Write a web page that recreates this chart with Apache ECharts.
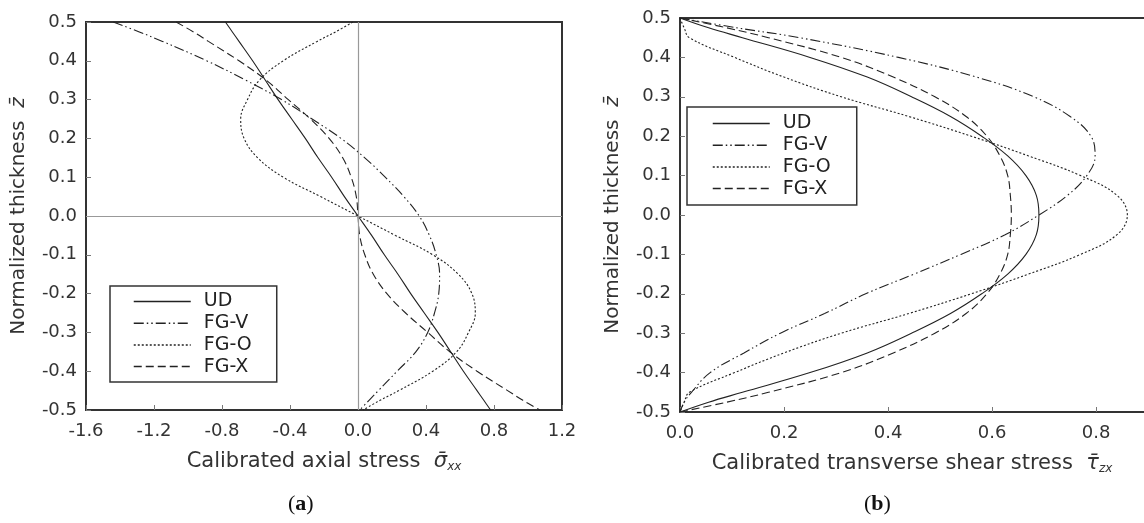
<!DOCTYPE html>
<html>
<head>
<meta charset="utf-8">
<script src="https://cdn.jsdelivr.net/npm/echarts@6/dist/echarts.min.js"></script>
<style>
html, body { margin: 0; padding: 0; background: #fff; }
#chart { width: 1144px; height: 523px; }
</style>
</head>
<body>
<div id="chart"></div>
<script>
// normalized thickness levels, shared by every curve
const zLevels = [0.5, 0.475, 0.45, 0.4, 0.35, 0.3, 0.25, 0.2, 0.15, 0.1, 0.05, 0,
  -0.05, -0.1, -0.15, -0.2, -0.25, -0.3, -0.35, -0.4, -0.45, -0.475, -0.5];

// (a) calibrated axial stress
const axialUD = [-0.78, -0.74, -0.70, -0.62, -0.545, -0.47, -0.39, -0.31, -0.235, -0.155, -0.08, 0,
  0.08, 0.155, 0.235, 0.31, 0.39, 0.47, 0.545, 0.62, 0.70, 0.74, 0.78];
const axialFGV = [-1.44, -1.29, -1.15, -0.89, -0.66, -0.45, -0.27, -0.10, 0.04, 0.16, 0.27, 0.36,
  0.42, 0.46, 0.48, 0.475, 0.45, 0.41, 0.34, 0.23, 0.12, 0.065, 0.01];
const axialFGO = [-0.03, -0.13, -0.24, -0.44, -0.58, -0.65, -0.69, -0.67, -0.59, -0.44, -0.22, 0,
  0.22, 0.44, 0.59, 0.67, 0.69, 0.65, 0.58, 0.44, 0.24, 0.13, 0.03];
const axialFGX = [-1.07, -0.97, -0.88, -0.70, -0.54, -0.41, -0.28, -0.17, -0.09, -0.04, -0.01, 0,
  0.01, 0.04, 0.09, 0.17, 0.28, 0.41, 0.54, 0.70, 0.88, 0.97, 1.07];

// (b) calibrated transverse shear stress
const shearUD = [0, 0.055, 0.12, 0.25, 0.36, 0.445, 0.52, 0.58, 0.63, 0.665, 0.685, 0.69,
  0.685, 0.665, 0.63, 0.58, 0.52, 0.445, 0.36, 0.25, 0.12, 0.055, 0];
const shearFGV = [0, 0.11, 0.23, 0.42, 0.57, 0.68, 0.75, 0.79, 0.798, 0.782, 0.745, 0.69,
  0.625, 0.54, 0.45, 0.357, 0.278, 0.193, 0.123, 0.058, 0.022, 0.008, 0];
const shearFGO = [0, 0.008, 0.018, 0.105, 0.20, 0.31, 0.44, 0.56, 0.67, 0.77, 0.84, 0.86,
  0.84, 0.77, 0.67, 0.56, 0.44, 0.31, 0.20, 0.105, 0.018, 0.008, 0];
const shearFGX = [0, 0.09, 0.17, 0.31, 0.41, 0.49, 0.55, 0.59, 0.615, 0.63, 0.635, 0.637,
  0.635, 0.63, 0.615, 0.59, 0.55, 0.49, 0.41, 0.31, 0.17, 0.09, 0];

const seriesNames = ["UD", "FG-V", "FG-O", "FG-X"];
const axialTicks = { min: -1.6, max: 1.2, interval: 0.4 };
const shearTicks = { min: 0, max: 0.892, interval: 0.2 };
const zTicks = { min: -0.5, max: 0.5, interval: 0.1 };

const FONT = "DejaVu Sans";
const INK = "#222";
const dashTypes = {
  "UD": "solid",
  "FG-V": [10, 3, 1.5, 3, 1.5, 3],
  "FG-O": [2, 2],
  "FG-X": [8, 4]
};

const toPairs = (xs) => xs.map((x, i) => [x, zLevels[i]]);
const fmt = (v) => v.toFixed(1);

const makeSeries = (name, values, grid) => ({
  name,
  type: "line",
  xAxisIndex: grid === 0 ? 0 : 1,
  yAxisIndex: grid,
  data: toPairs(values),
  smooth: 0.4,
  symbol: "none",
  animation: false,
  lineStyle: { color: INK, width: 1.1, type: dashTypes[name] },
  itemStyle: { color: INK }
});

const tickLabel = (extra) => Object.assign({ formatter: fmt, color: "#333", fontSize: 18, fontFamily: FONT }, extra);

const valueAxis = (grid, ticks, extra) => Object.assign({
  type: "value",
  gridIndex: grid,
  min: ticks.min,
  max: ticks.max,
  interval: ticks.interval,
  splitLine: { show: false },
  axisTick: { show: true, inside: true, length: 5, lineStyle: { color: "#777" } },
  axisLine: { show: true, onZero: false, lineStyle: { color: "#333", width: 2 } },
  axisLabel: tickLabel({})
}, extra);

const legendBox = (left, top, padding) => ({
  left, top,
  orient: "vertical",
  data: seriesNames,
  itemWidth: 57,
  itemHeight: 20,
  itemGap: 2.7,
  padding,
  borderColor: "#333",
  borderWidth: 1.5,
  selectedMode: false,
  itemStyle: { opacity: 0 },
  lineStyle: { width: 1.5 },
  textStyle: { color: "#222", fontSize: 19, fontFamily: FONT, padding: [0, 0, 0, 8] }
});

const zName = "Normalized thickness  {z|z\u0304}";
const nameRich = (size) => ({
  z: { fontStyle: "italic", fontSize: size, fontFamily: FONT, color: "#333" },
  v: { fontStyle: "italic", fontSize: size, fontFamily: FONT, color: "#333" },
  s: { fontStyle: "italic", fontSize: 12, fontFamily: FONT, color: "#333", padding: [10, 0, 0, 0] }
});
const nameStyle = (size) => ({ color: "#333", fontSize: size, fontFamily: FONT, rich: nameRich(size) });

const panelTitle = (letter, left) => ({
  text: "({b|" + letter + "})",
  left,
  top: 488,
  textStyle: {
    fontFamily: "Liberation Serif", fontSize: 22, color: "#111", fontWeight: "normal",
    rich: { b: { fontFamily: "Liberation Serif", fontSize: 22, fontWeight: "bold", color: "#111" } }
  }
});

const option = {
  backgroundColor: "#fff",
  animation: false,
  title: [panelTitle("a", 283), panelTitle("b", 859)],
  legend: [
    legendBox(110, 286, [6, 25, 6, 23]),
    legendBox(687, 107, [7, 26, 7, 25])
  ],
  grid: [
    { left: 86, top: 22, width: 476, height: 388, show: true, borderColor: "#333", borderWidth: 2 },
    { left: 680, top: 18, width: 464, height: 394 }
  ],
  xAxis: [
    valueAxis(0, axialTicks, {
      position: "bottom",
      name: "Calibrated axial stress  {v|\u03c3\u0304}{s|xx}",
      nameLocation: "middle",
      nameGap: 41,
      axisLabel: tickLabel({ margin: 12 }),
      nameTextStyle: nameStyle(21)
    }),
    valueAxis(1, shearTicks, {
      position: "bottom",
      name: "Calibrated transverse shear stress  {v|\u03c4\u0304}{s|zx}",
      nameLocation: "middle",
      nameGap: 41,
      axisLabel: tickLabel({ margin: 12, showMaxLabel: false }),
      nameTextStyle: nameStyle(21)
    }),
    valueAxis(1, shearTicks, {
      position: "top",
      axisTick: { show: false },
      axisLabel: { show: false }
    })
  ],
  yAxis: [
    valueAxis(0, zTicks, {
      name: zName,
      nameLocation: "middle",
      nameRotate: 90,
      nameGap: 57,
      axisLabel: tickLabel({ margin: 9 }),
      nameTextStyle: nameStyle(20)
    }),
    valueAxis(1, zTicks, {
      name: zName,
      nameLocation: "middle",
      nameRotate: 90,
      nameGap: 57,
      axisLabel: tickLabel({ margin: 9 }),
      nameTextStyle: nameStyle(20)
    })
  ],
  series: [
    Object.assign(makeSeries("UD", axialUD, 0), {
      markLine: {
        silent: true,
        symbol: ["none", "none"],
        label: { show: false },
        lineStyle: { color: "#999", type: "solid", width: 1.2 },
        data: [{ xAxis: 0 }, { yAxis: 0 }]
      }
    }),
    makeSeries("FG-V", axialFGV, 0),
    makeSeries("FG-O", axialFGO, 0),
    makeSeries("FG-X", axialFGX, 0),
    makeSeries("UD", shearUD, 1),
    makeSeries("FG-V", shearFGV, 1),
    makeSeries("FG-O", shearFGO, 1),
    makeSeries("FG-X", shearFGX, 1)
  ]
};

const myChart = echarts.init(document.getElementById("chart"));
myChart.setOption(option);
</script>
</body>
</html>
